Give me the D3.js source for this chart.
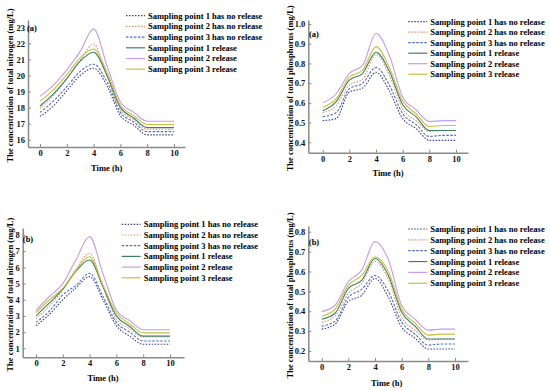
<!DOCTYPE html>
<html>
<head>
<meta charset="utf-8">
<script src="https://cdn.jsdelivr.net/npm/d3@7"></script>
<style>
  body { margin: 0; background: #fff; }
  svg text { font-family: "Liberation Serif", "Times New Roman", serif; font-weight: bold; }
</style>
</head>
<body>
<svg id="chart" width="550" height="390"></svg>
<script>
// hours on the x axis
const hours = [0, 1, 2, 3, 4, 5, 6, 7, 8, 9, 10];

const seriesNames = [
  "Sampling point 1 has no release",
  "Sampling point 2 has no release",
  "Sampling point 3 has no release",
  "Sampling point 1 release",
  "Sampling point 2 release",
  "Sampling point 3 release"
];

// total nitrogen (a), one row per series, same order as seriesNames
const tnA = [
  [17.45, 18.1, 19.05, 20.0, 20.45, 19.35, 17.5, 16.9, 16.3, 16.3, 16.3],
  [17.95, 18.75, 19.8, 20.95, 21.95, 19.95, 17.85, 17.25, 16.65, 16.65, 16.65],
  [17.7, 18.4, 19.3, 20.25, 20.7, 19.6, 17.7, 17.1, 16.5, 16.5, 16.5],
  [18.1, 18.85, 19.8, 20.9, 21.45, 20.0, 18.0, 17.35, 16.75, 16.75, 16.75],
  [18.7, 19.4, 20.35, 21.5, 22.9, 20.6, 18.35, 17.7, 17.15, 17.15, 17.15],
  [18.4, 19.1, 20.05, 21.1, 21.65, 20.2, 18.15, 17.5, 16.95, 16.95, 16.95]
];

// total phosphorus (a)
const tpA = [
  [0.51, 0.52, 0.655, 0.675, 0.755, 0.66, 0.52, 0.47, 0.41, 0.41, 0.41],
  [0.55, 0.585, 0.69, 0.72, 0.845, 0.74, 0.57, 0.51, 0.455, 0.46, 0.46],
  [0.53, 0.55, 0.672, 0.70, 0.78, 0.69, 0.545, 0.49, 0.43, 0.435, 0.435],
  [0.56, 0.605, 0.715, 0.75, 0.857, 0.76, 0.59, 0.53, 0.46, 0.46, 0.46],
  [0.60, 0.645, 0.75, 0.79, 0.953, 0.84, 0.63, 0.565, 0.505, 0.51, 0.51],
  [0.578, 0.62, 0.73, 0.766, 0.885, 0.78, 0.61, 0.545, 0.48, 0.485, 0.485]
];

// total nitrogen (b)
const tnB = [
  [2.4, 3.1, 4.0, 4.75, 5.43, 4.0, 2.4, 1.75, 1.25, 1.25, 1.25],
  [2.85, 3.6, 4.6, 5.9, 6.87, 4.8, 2.8, 2.2, 1.7, 1.7, 1.7],
  [2.6, 3.3, 4.3, 4.9, 5.64, 4.2, 2.6, 2.0, 1.45, 1.45, 1.45],
  [3.0, 3.8, 4.65, 5.78, 6.46, 4.8, 3.0, 2.35, 1.75, 1.75, 1.75],
  [3.35, 4.2, 5.0, 6.5, 7.9, 5.6, 3.37, 2.7, 2.15, 2.15, 2.15],
  [3.2, 4.0, 4.7, 5.85, 6.66, 4.9, 3.2, 2.5, 1.95, 1.95, 1.95]
];

// total phosphorus (b)
const tpB = [
  [0.31, 0.335, 0.45, 0.48, 0.565, 0.47, 0.32, 0.265, 0.21, 0.21, 0.21],
  [0.345, 0.375, 0.49, 0.54, 0.65, 0.56, 0.37, 0.305, 0.255, 0.26, 0.26],
  [0.325, 0.35, 0.47, 0.51, 0.58, 0.50, 0.345, 0.285, 0.23, 0.235, 0.235],
  [0.36, 0.39, 0.515, 0.555, 0.665, 0.58, 0.395, 0.325, 0.26, 0.26, 0.26],
  [0.398, 0.43, 0.549, 0.607, 0.75, 0.66, 0.43, 0.36, 0.305, 0.31, 0.31],
  [0.375, 0.41, 0.53, 0.58, 0.674, 0.60, 0.41, 0.34, 0.28, 0.285, 0.285]
];

const xTicks = [0, 2, 4, 6, 8, 10];
const tnATicks = [16, 17, 18, 19, 20, 21, 22, 23];
const tpATicks = [0.4, 0.5, 0.6, 0.7, 0.8, 0.9, 1.0];
const tnBTicks = [1, 2, 3, 4, 5, 6, 7, 8];
const tpBTicks = [0.2, 0.3, 0.4, 0.5, 0.6, 0.7, 0.8];

const colors = ["#3c3c8c", "#e0906a", "#4a6fc8", "#3f7f64", "#c49cf0", "#c8c23c"];
const dashes = ["1.5,1.5", "1.5,1.5", "2.5,1.5", null, null, null];

const svg = d3.select("#chart");

const panels = [
  { data: tnA, ticks: tnATicks, fmt: d3.format("d"), label: "(a)",
    title: "The concentration of total nitrogen (mg/L)",
    left: 28, right: 185, top: 20, bottom: 147,
    x0: 40, x10: 174, yLo: [16, 139.7], yHi: [23, 27.3],
    legX: 126, legY: 15.7, legStep: 10.7, titleX: 10, timeX: 106.7, timeY: 171, tagX: 32, tagY: 31 },
  { data: tpA, ticks: tpATicks, fmt: d3.format(".1f"), label: "(a)",
    title: "The concentration of total phosphorus (mg/L)",
    left: 308.3, right: 468, top: 20, bottom: 152.7,
    x0: 322.7, x10: 456, yLo: [0.4, 142.3], yHi: [1.0, 24],
    legX: 408.3, legY: 21.7, legStep: 10.5, titleX: 290, timeX: 388, timeY: 176, tagX: 314, tagY: 37 },
  { data: tnB, ticks: tnBTicks, fmt: d3.format("d"), label: "(b)",
    title: "The concentration of total nitrogen (mg/L)",
    left: 22.7, right: 184, top: 228, bottom: 357.3,
    x0: 36, x10: 170, yLo: [1, 348.3], yHi: [8, 235],
    legX: 121.7, legY: 224.3, legStep: 10.7, titleX: 10, timeX: 103, timeY: 381, tagX: 28, tagY: 241.5 },
  { data: tpB, ticks: tpBTicks, fmt: d3.format(".1f"), label: "(b)",
    title: "The concentration of total phosphorus (mg/L)",
    left: 308.3, right: 468, top: 226, bottom: 361,
    x0: 321.7, x10: 455, yLo: [0.2, 351], yHi: [0.8, 231.7],
    legX: 408.3, legY: 229, legStep: 10.85, titleX: 290, timeX: 386.7, timeY: 386, tagX: 314, tagY: 245 }
];

panels.forEach(p => drawPanel(p));

function drawPanel(p) {
  const g = svg.append("g");

  // scales fixed by two known ticks, then stretched to the axis line ends
  const x = d3.scaleLinear().domain([0, 10]).range([p.x0, p.x10]);
  x.domain([x.invert(p.left), x.invert(p.right)]).range([p.left, p.right]);
  const y = d3.scaleLinear().domain([p.yLo[0], p.yHi[0]]).range([p.yLo[1], p.yHi[1]]);
  y.domain([y.invert(p.bottom), y.invert(p.top)]).range([p.bottom, p.top]);

  const xAxis = g.append("g")
    .attr("transform", `translate(0,${p.bottom})`)
    .call(d3.axisBottom(x).tickValues(xTicks).tickSizeInner(-3).tickSizeOuter(0).tickPadding(3));
  const yAxis = g.append("g")
    .attr("transform", `translate(${p.left},0)`)
    .call(d3.axisLeft(y).tickValues(p.ticks).tickFormat(p.fmt).tickSizeInner(-3).tickSizeOuter(0).tickPadding(3));

  [xAxis, yAxis].forEach(a => {
    a.select(".domain").attr("stroke", "#8a8a8a").attr("stroke-width", 1.5);
    a.selectAll(".tick line").attr("stroke", "#8a8a8a");
    a.selectAll(".tick text").attr("fill", "#111").style("font-size", "8.5px")
      .style("font-family", "'Liberation Serif', serif").style("font-weight", "bold");
  });

  const line = d3.line()
    .x((d, i) => x(hours[i]))
    .y(d => y(d))
    .curve(d3.curveMonotoneX);

  g.append("g").selectAll("path")
    .data(p.data)
    .enter().append("path")
    .attr("d", d => line(d))
    .attr("fill", "none")
    .attr("stroke", (d, i) => colors[i])
    .attr("stroke-width", 1.1)
    .attr("stroke-dasharray", (d, i) => dashes[i]);

  // legend
  const leg = g.append("g");
  seriesNames.forEach((name, i) => {
    const ly = p.legY + i * p.legStep;
    leg.append("line")
      .attr("x1", p.legX).attr("x2", p.legX + 19)
      .attr("y1", ly).attr("y2", ly)
      .attr("stroke", colors[i])
      .attr("stroke-width", 1.2)
      .attr("stroke-dasharray", dashes[i]);
    leg.append("text")
      .attr("x", p.legX + 22).attr("y", ly)
      .attr("dy", "0.35em")
      .style("font-size", "8.5px")
      .text(name);
  });

  g.append("text")
    .attr("x", p.tagX).attr("y", p.tagY)
    .attr("text-anchor", "middle")
    .style("font-size", "8.5px")
    .text(p.label);

  g.append("text")
    .attr("x", p.timeX).attr("y", p.timeY)
    .attr("text-anchor", "middle")
    .style("font-size", "8.5px")
    .text("Time (h)");

  g.append("text")
    .attr("transform", `translate(${p.titleX + 3},${(p.top + p.bottom) / 2 + 2}) rotate(-90)`)
    .attr("text-anchor", "middle")
    .style("font-size", "8.5px")
    .text(p.title);
}
</script>
</body>
</html>
